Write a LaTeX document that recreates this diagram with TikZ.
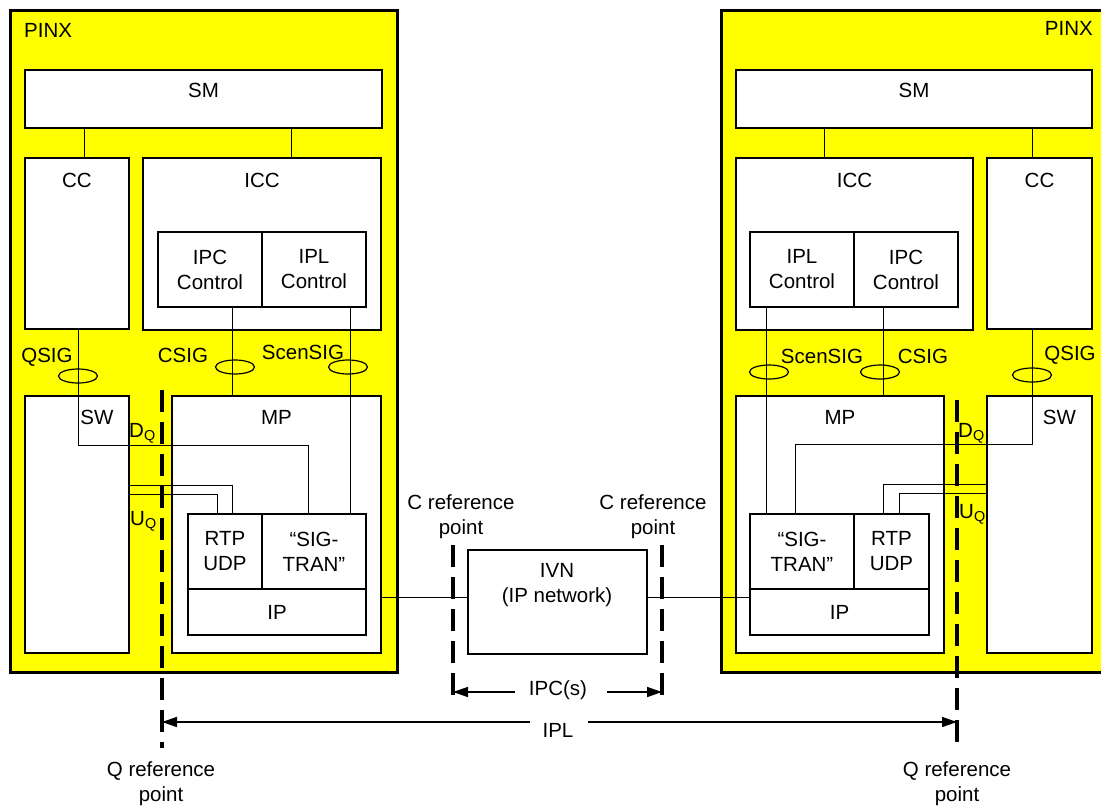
\documentclass[tikz,border=0pt]{standalone}
\usepackage{fontspec}
\setmainfont{Liberation Sans}
\usetikzlibrary{arrows.meta,positioning,shapes.geometric}
\definecolor{pinxyellow}{RGB}{255,255,0}
\tikzset{
  pinx/.style={draw, line width=3pt, fill=pinxyellow, anchor=north west, inner sep=0pt, outer sep=0pt},
  blk/.style={draw, line width=2.5pt, fill=white, anchor=north west, inner sep=0pt, outer sep=0pt, align=center},
  wire/.style={line width=1pt},
  bundle/.style={draw, ellipse, line width=1.2pt, minimum width=39pt, minimum height=14pt, inner sep=0pt},
  refline/.style={line width=4pt, dash pattern=on 22pt off 10pt},
  dim/.style={line width=1.5pt, -{Triangle[length=15pt,width=10pt]}},
  txt/.style={inner sep=0pt, align=center}
}

\begin{document}
\begin{tikzpicture}[x=1pt, y=-1pt, font=\fontsize{20.5}{25}\selectfont]
   \clip (0,0) rectangle (1101,807);

   % left PINX
   \node[pinx, minimum width=387pt, minimum height=662pt] (pinxL) at (10,10) {};
   \node[txt, anchor=west] at (24,30) {PINX};
   \node[blk, minimum width=357pt, minimum height=58pt] (smL) at (25,70) {};
   \node[blk, minimum width=104pt, minimum height=171pt] (ccL) at (25,158) {};
   \node[blk, minimum width=238pt, minimum height=172pt] (iccL) at (143,158) {};
   \node[blk, minimum width=104pt, minimum height=75pt] (ipcL) at (158,232) {IPC\\Control};
   \node[blk, minimum width=104pt, minimum height=75pt] (iplL) at (262,232) {IPL\\Control};
   \node[blk, minimum width=104pt, minimum height=257pt] (swL) at (25,396) {};
   \node[blk, minimum width=209pt, minimum height=257pt] (mpL) at (172,396) {};
   \node[blk, minimum width=74pt, minimum height=75pt] (rtpL) at (188,514) {RTP\\UDP};
   \node[blk, minimum width=104pt, minimum height=75pt] (sigL) at (262,514) {“SIG-\\TRAN”};
   \node[blk, minimum width=178pt, minimum height=46pt] (ipL) at (188,589) {IP};

   % right PINX
   \node[pinx, minimum width=382pt, minimum height=662pt] (pinxR) at (721,10) {};
   \node[txt, anchor=east] at (1093,28) {PINX};
   \node[blk, minimum width=356pt, minimum height=58pt] (smR) at (736,70) {};
   \node[blk, minimum width=237pt, minimum height=172pt] (iccR) at (736,158) {};
   \node[blk, minimum width=105pt, minimum height=171pt] (ccR) at (987,158) {};
   \node[blk, minimum width=104pt, minimum height=75pt] (iplR) at (750,232) {IPL\\Control};
   \node[blk, minimum width=104pt, minimum height=75pt] (ipcR) at (854,232) {IPC\\Control};
   \node[blk, minimum width=208pt, minimum height=257pt] (mpR) at (736,396) {};
   \node[blk, minimum width=105pt, minimum height=257pt] (swR) at (987,396) {};
   \node[blk, minimum width=104pt, minimum height=75pt] (sigR) at (750,514) {“SIG-\\TRAN”};
   \node[blk, minimum width=75pt, minimum height=75pt] (rtpR) at (854,514) {RTP\\UDP};
   \node[blk, minimum width=179pt, minimum height=46pt] (ipR) at (750,589) {IP};

   % IP network
   \node[blk, minimum width=179pt, minimum height=104pt] (ivn) at (468,550) {};
   \node[txt] at (557,585) {IVN\\(IP network)};

   % block names
   \node[txt, below=13pt of smL.north] {SM};
   \node[txt, below=15pt of ccL.north] {CC};
   \node[txt, below=15pt of iccL.north] {ICC};
   \node[txt, below=14pt of swL.north, xshift=20pt] {SW};
   \node[txt, below=14pt of mpL.north] {MP};
   \node[txt, below=13pt of smR.north] {SM};
   \node[txt, below=15pt of iccR.north] {ICC};
   \node[txt, below=15pt of ccR.north] {CC};
   \node[txt, below=14pt of swR.north, xshift=20pt] {SW};
   \node[txt, below=14pt of mpR.north] {MP};

   % left connections
   \draw[wire] ([xshift=7pt]ccL.north) -- ([xshift=7pt]ccL.north |- smL.south);
   \draw[wire] ([xshift=29pt]iccL.north) -- ([xshift=29pt]iccL.north |- smL.south);
   \draw[wire] ([xshift=1pt]ccL.south) -- ++(0,116) -| ([xshift=-6pt]sigL.north);
   \draw[wire] ([yshift=39.5pt]swL.east) -| ([xshift=7pt]rtpL.north);
   \draw[wire] ([yshift=30.5pt]swL.east) -| ([xshift=-8pt]rtpL.north);
   \draw[wire] ([xshift=22pt]ipcL.south) -- ([xshift=22pt]ipcL.south |- mpL.north);
   \draw[wire] ([xshift=36pt]iplL.south) -- ([xshift=36pt]sigL.north);
   \draw[wire] ([yshift=5pt]ivn.west) -- ([yshift=5pt]ivn.west -| mpL.east);

   % right connections
   \draw[wire] ([xshift=-30.5pt]iccR.north) -- ([xshift=-30.5pt]iccR.north |- smR.south);
   \draw[wire] ([xshift=-7.5pt]ccR.north) -- ([xshift=-7.5pt]ccR.north |- smR.south);
   \draw[wire] ([xshift=-7.5pt]ccR.south) -- ++(0,115) -| ([xshift=-7pt]sigR.north);
   \draw[wire] ([yshift=40.5pt]swR.west) -| ([xshift=-8.5pt]rtpR.north);
   \draw[wire] ([yshift=31.5pt]swR.west) -| ([xshift=7.5pt]rtpR.north);
   \draw[wire] ([xshift=-36pt]iplR.south) -- ([xshift=-36pt]sigR.north);
   \draw[wire] ([xshift=-23pt]ipcR.south) -- ([xshift=-23pt]ipcR.south |- mpR.north);
   \draw[wire] ([yshift=5pt]ivn.east) -- ([yshift=5pt]ivn.east -| ipR.west);

   % signalling bundles
   \node[bundle] (qsigL) at (78,376) {};
   \node[bundle] (csigL) at (235,367) {};
   \node[bundle] (scenL) at (348,367) {};
   \node[bundle] (scenR) at (769,372) {};
   \node[bundle] (csigR) at (880,372) {};
   \node[bundle] (qsigR) at (1032,375) {};
   \node[txt] at (47,357) {QSIG};
   \node[txt] at (183,355) {CSIG};
   \node[txt] at (303,352) {ScenSIG};
   \node[txt] at (822,356) {ScenSIG};
   \node[txt] at (923,356) {CSIG};
   \node[txt] at (1070,355) {QSIG};
   \node[txt, anchor=base west] at (129,437) {D\textsubscript{Q}};
   \node[txt, anchor=base west] at (130,525) {U\textsubscript{Q}};
   \node[txt, anchor=base west] at (958,437) {D\textsubscript{Q}};
   \node[txt, anchor=base west] at (959,518) {U\textsubscript{Q}};

   % reference points
   \coordinate (qL1) at (162,390);
   \coordinate (qL2) at (162,748);
   \coordinate (qR1) at (957,400);
   \coordinate (qR2) at (957,748);
   \coordinate (cL1) at (453,545);
   \coordinate (cL2) at (453,700);
   \coordinate (cR1) at (662,545);
   \coordinate (cR2) at (662,700);
   \draw[refline] (qL1) -- (qL2);
   \draw[refline] (qR1) -- (qR2);
   \draw[refline] (cL1) -- (cL2);
   \draw[refline] (cR1) -- (cR2);
   \node[txt] at (461,517) {C reference\\point};
   \node[txt] at (653,517) {C reference\\point};
   \node[txt] at (161,784) {Q reference\\point};
   \node[txt] at (957,784) {Q reference\\point};

   % spans
   \coordinate (ipcA) at (515,692);
   \coordinate (ipcB) at (607,692);
   \draw[dim] (ipcA) -- (ipcA -| cL1);
   \draw[dim] (ipcB) -- (ipcB -| cR1);
   \node[txt] at (558,690) {IPC(s)};
   \coordinate (iplA) at (530,722);
   \coordinate (iplB) at (588,722);
   \draw[dim] (iplA) -- (iplA -| qL1);
   \draw[dim] (iplB) -- (iplB -| qR1);
   \node[txt] at (558,730) {IPL};
\end{tikzpicture}
\end{document}
